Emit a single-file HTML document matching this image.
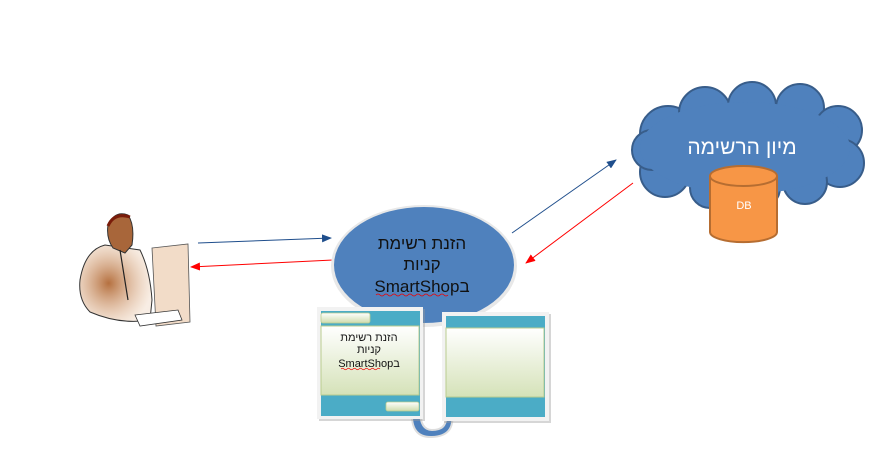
<!DOCTYPE html>
<html><head><meta charset="utf-8"><style>
html,body{margin:0;padding:0;background:#fff;}
body{width:892px;height:473px;overflow:hidden;position:relative;}
svg{position:absolute;left:0;top:0;}
</style></head><body>
<svg width="892" height="473" viewBox="0 0 892 473" xmlns="http://www.w3.org/2000/svg">
<defs>
<linearGradient id="gr" x1="0" y1="0" x2="0" y2="1"><stop offset="0" stop-color="#ffffff"/><stop offset="1" stop-color="#d5e2b8"/></linearGradient>
<linearGradient id="bt" x1="0" y1="0" x2="0" y2="1"><stop offset="0" stop-color="#ffffff"/><stop offset="1" stop-color="#cfdcae"/></linearGradient>
<radialGradient id="sk" cx="0.4" cy="0.5" r="0.6"><stop offset="0" stop-color="#b5703f"/><stop offset="1" stop-color="#e8c4a4" stop-opacity="0.3"/></radialGradient>
<marker id="ab" markerWidth="10" markerHeight="8" refX="9" refY="4" orient="auto" markerUnits="userSpaceOnUse"><path d="M0,0 L10,4 L0,8z" fill="#1f4e8c"/></marker>
<marker id="ar" markerWidth="10" markerHeight="8" refX="9" refY="4" orient="auto" markerUnits="userSpaceOnUse"><path d="M0,0 L10,4 L0,8z" fill="#ff0000"/></marker>
</defs>

<!-- person -->
<g>
<path d="M152,248 L188,244 L190,322 L156,326z" fill="#f2dcc8" stroke="#555" stroke-width="0.8"/>
<path d="M80,280 Q85,250 105,245 L140,250 Q150,270 152,300 L150,320 Q120,325 90,312 Q78,300 80,280z" fill="url(#sk)" stroke="#333" stroke-width="1"/>
<path d="M108,225 Q115,210 128,215 Q135,225 132,245 L125,253 L113,248 Q106,238 108,225z" fill="#a8663a" stroke="#333" stroke-width="1"/>
<path d="M108,226 Q114,212 130,217" fill="none" stroke="#7a1c0a" stroke-width="3"/>
<path d="M120,250 L128,300" stroke="#222" stroke-width="1.2" fill="none"/>
<path d="M135,315 L178,310 L182,320 L140,326z" fill="#fff" stroke="#333" stroke-width="0.8"/>
</g>

<!-- arrows -->
<line x1="198" y1="243" x2="331" y2="238" stroke="#1f4e8c" stroke-width="1" marker-end="url(#ab)"/>
<line x1="333" y1="260" x2="191" y2="267" stroke="#ff0000" stroke-width="1" marker-end="url(#ar)"/>
<line x1="512" y1="233" x2="616" y2="160" stroke="#1f4e8c" stroke-width="1" marker-end="url(#ab)"/>
<line x1="633" y1="183" x2="526" y2="263" stroke="#ff0000" stroke-width="1" marker-end="url(#ar)"/>

<!-- cloud -->
<g fill="#4f81bd" stroke="#385d8a" stroke-width="2">
<circle cx="668" cy="134" r="28"/>
<circle cx="705" cy="113" r="26"/>
<circle cx="752" cy="106" r="24"/>
<circle cx="800" cy="108" r="24"/>
<circle cx="838" cy="130" r="24"/>
<circle cx="840" cy="163" r="24"/>
<circle cx="805" cy="182" r="22"/>
<circle cx="760" cy="188" r="20"/>
<circle cx="710" cy="188" r="20"/>
<circle cx="665" cy="172" r="25"/>
<circle cx="652" cy="150" r="20"/>
</g>
<g fill="#4f81bd">
<ellipse cx="745" cy="148" rx="105" ry="46"/>
</g>
<text x="742" y="154" font-family="'Liberation Sans','DejaVu Sans',sans-serif" font-size="21" fill="#fff" text-anchor="middle" direction="rtl">מיון הרשימה</text>

<!-- DB -->
<path d="M710,176 L710,232 A33,10 0 0 0 777,232 L777,176" fill="#f79646" stroke="#b66d31" stroke-width="2"/>
<ellipse cx="743.5" cy="176" rx="33.5" ry="10" fill="#f79646" stroke="#b66d31" stroke-width="2"/>
<text x="744" y="209" font-family="'Liberation Sans',sans-serif" font-size="11" fill="#fff" text-anchor="middle">DB</text>

<!-- main ellipse -->
<ellipse cx="424" cy="266" rx="93" ry="61" fill="#e8e8e8"/>
<ellipse cx="424" cy="265" rx="90" ry="58" fill="#4f81bd"/>
<g font-family="'Liberation Sans','DejaVu Sans',sans-serif" font-size="17" fill="#111" text-anchor="middle">
<text x="422" y="249" direction="rtl">הזנת רשימת</text>
<text x="422" y="270" direction="rtl">קניות</text>
<text x="422" y="292">SmartShopב</text>
</g>
<path d="M376,295 q2,-2 4,0 t4,0 t4,0 t4,0 t4,0 t4,0 t4,0 t4,0 t4,0 t4,0 t4,0 t4,0 t4,0 t4,0 t4,0 t4,0 t4,0 t4,0" fill="none" stroke="#e00" stroke-width="0.8"/>

<!-- curl -->
<path d="M412,410 Q410,438 432,437 Q455,436 452,414 L446,418 Q446,430 432,430 Q420,430 420,410z" fill="#4f81bd" stroke="#ddd" stroke-width="2"/>

<!-- left panel -->
<rect x="319" y="309" width="106" height="112" fill="#999" opacity="0.4"/>
<rect x="317" y="307" width="106" height="112" fill="#f2f2f2"/>
<rect x="321" y="311" width="99" height="105" fill="#4bacc6"/>
<rect x="321" y="313" width="49" height="10" rx="2" fill="url(#bt)" stroke="#b9cc8f" stroke-width="0.8"/>
<rect x="321" y="326" width="98" height="69" fill="url(#gr)" stroke="#b9cc8f" stroke-width="1"/>
<rect x="386" y="402" width="33" height="9" rx="2" fill="url(#bt)" stroke="#b9cc8f" stroke-width="0.8"/>
<g font-family="'Liberation Sans','DejaVu Sans',sans-serif" font-size="11" fill="#111" text-anchor="middle">
<text x="369" y="341" direction="rtl">הזנת רשימת</text>
<text x="369" y="353" direction="rtl">קניות</text>
<text x="369" y="367">SmartShopב</text>
</g>
<path d="M341,369 q1.5,-1.5 3,0 t3,0 t3,0 t3,0 t3,0 t3,0 t3,0 t3,0 t3,0 t3,0 t3,0 t3,0 t3,0" fill="none" stroke="#e00" stroke-width="0.7"/>

<!-- right panel -->
<rect x="444" y="314" width="107" height="109" fill="#999" opacity="0.4"/>
<rect x="442" y="312" width="107" height="109" fill="#f2f2f2"/>
<rect x="446" y="316" width="99" height="101" fill="#4bacc6"/>
<rect x="446" y="328" width="98" height="69" fill="url(#gr)" stroke="#b9cc8f" stroke-width="1"/>
</svg>
</body></html>
